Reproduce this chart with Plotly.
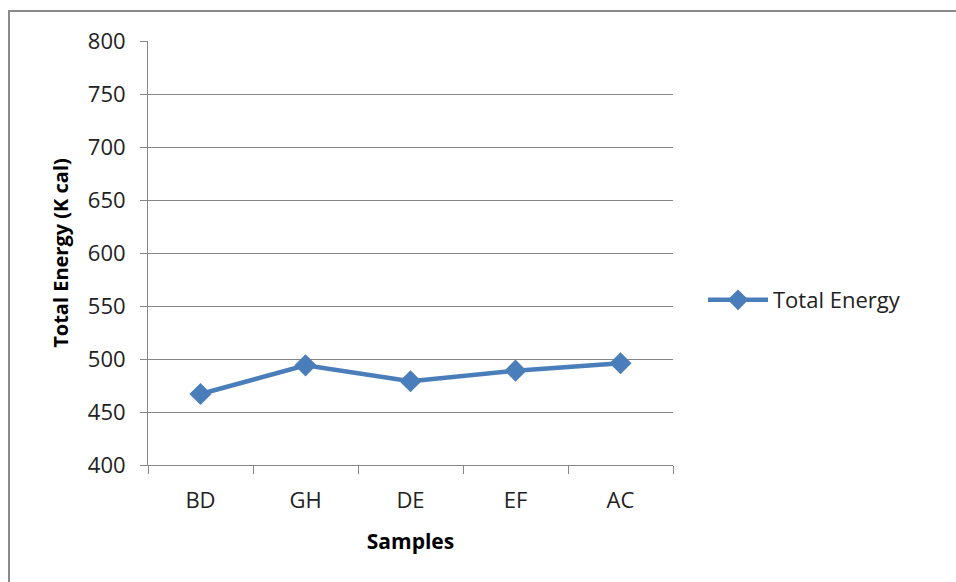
import plotly.graph_objects as go

samples = ["BD", "GH", "DE", "EF", "AC"]
total_energy = [467, 494, 479, 489, 496]
series_name = "Total Energy"

BLUE = "#4a7ebb"
GRID = "#868686"
FONT = "Open Sans, Noto Sans, sans-serif"

fig = go.Figure()
fig.add_trace(go.Scatter(
    x=samples, y=total_energy, name=series_name, mode="lines+markers",
    line=dict(color=BLUE, width=4.5),
    marker=dict(symbol="diamond", size=17, color=BLUE),
    showlegend=True,
))

L, R, T, B = 148, 673, 41, 465
W, H = 956, 582
pw, ph = R - L, B - T

def px(x):
    return (x - L) / pw

def py(y):
    return (B - y) / ph

fig.update_layout(
    width=W, height=H,
    margin=dict(l=L, r=W - R, t=T, b=H - B),
    paper_bgcolor="white", plot_bgcolor="white",
    font=dict(family=FONT, size=22, color="#000000"),
    showlegend=True,
    legend=dict(x=px(703), y=py(300), xanchor="left", yanchor="middle",
                font=dict(size=22, color="#222"), itemwidth=60,
                bgcolor="rgba(0,0,0,0)"),
    xaxis=dict(
        showline=True, linecolor=GRID, linewidth=1,
        ticks="outside", ticklen=8, tickcolor=GRID, tickson="boundaries",
        showgrid=False, tickfont=dict(size=22, color="#222"),
        ticklabelstandoff=16,
        title=dict(text="<b>Samples</b>", font=dict(size=21, color="#000"), standoff=20),
        range=[-0.5, 4.5],
    ),
    yaxis=dict(
        range=[400, 800], dtick=50, tick0=400,
        showline=True, linecolor=GRID, linewidth=1,
        ticks="outside", ticklen=7, tickcolor=GRID,
        showgrid=True, gridcolor=GRID, gridwidth=1,
        tickfont=dict(size=22, color="#222"),
        ticklabelstandoff=10,
        title=dict(text="<b>Total Energy (K cal)</b>", font=dict(size=20, color="#000"), standoff=13),
        zeroline=False,
    ),
    shapes=[dict(type="rect", xref="paper", yref="paper",
                 x0=px(9), x1=px(990), y0=py(620), y1=py(11),
                 line=dict(color="#8a8a8a", width=2), fillcolor="rgba(0,0,0,0)",
                 layer="below")],
)

fig.write_html("out.html")
